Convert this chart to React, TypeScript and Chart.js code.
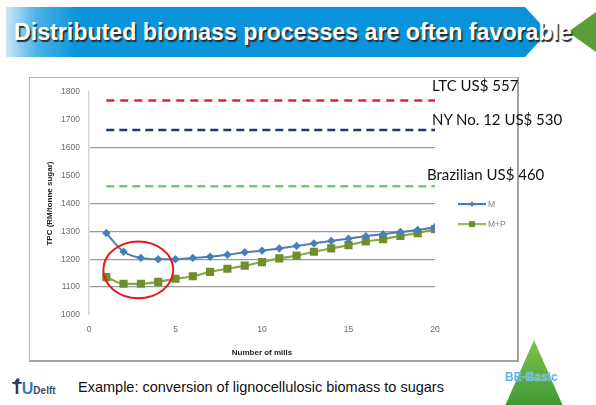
import React, { useEffect, useRef } from "react";
import { Chart, registerables } from "chart.js";

Chart.register(...registerables);

// ---- data ----
const mills = [1, 2, 3, 4, 5, 6, 7, 8, 9, 10, 11, 12, 13, 14, 15, 16, 17, 18, 19, 20];
const seriesM = [1294, 1227, 1205, 1200, 1200, 1205, 1209, 1216, 1225, 1231, 1239, 1248, 1257, 1266, 1274, 1283, 1290, 1298, 1305, 1316];
const seriesMP = [1136, 1112, 1112, 1119, 1130, 1139, 1155, 1166, 1177, 1190, 1203, 1213, 1227, 1239, 1251, 1264, 1272, 1284, 1294, 1308];
const seriesLabels = ["M", "M+P"];

const refLabels = ["LTC US$ 557", "NY No. 12 US$ 530", "Brazilian US$ 460"];
const refValues = [1770, 1664, 1462];

const yMin = 1000;
const yMax = 1800;
const yStep = 100;
const xMin = 0;
const xMax = 20;
const xStep = 5;
const hiddenGridAt = [1000, 1500, 1700, 1800];

// highlighted region (data coords): centre x, centre y, radius x, radius y
const circleCentre = [2.85, 1162];
const circleRadius = [2.02, 102];

const xTitle = "Number of mills";
const yTitle = "TPC (RM/tonne sugar)";
const slideTitle = "Distributed biomass processes are often favorable";
const footerText = "Example: conversion of lignocellulosic biomass to sugars";

// ---- styles ----
const refColors = ["#e0262b", "#1f3a6e", "#6fd06f"];
const refDash = [
  [8, 6],
  [8, 5],
  [8, 5],
];
const colM = "#4a7ebb";
const colMPline = "#88a64a";
const colMPpoint = "#6f8f2c";

const ellipsePlugin = {
  id: "ellipseMark",
  afterDatasetsDraw(chart: any) {
    const { ctx, scales } = chart;
    const x = scales.x, y = scales.y;
    const cx = x.getPixelForValue(circleCentre[0]);
    const cy = y.getPixelForValue(circleCentre[1]);
    const rx = Math.abs(x.getPixelForValue(circleCentre[0] + circleRadius[0]) - cx);
    const ry = Math.abs(y.getPixelForValue(circleCentre[1] + circleRadius[1]) - cy);
    ctx.save();
    ctx.beginPath();
    ctx.ellipse(cx, cy, rx, ry, 0, 0, Math.PI * 2);
    ctx.strokeStyle = "#e8161b";
    ctx.lineWidth = 2;
    ctx.stroke();
    ctx.restore();
  },
};

const sideLegendPlugin = {
  id: "sideLegend",
  afterDraw(chart: any) {
    const { ctx, chartArea } = chart;
    const items = chart.data.datasets.filter((d: any) => d.inLegend);
    items.forEach((ds: any, i: number) => {
      const y = chartArea.top + 112 + i * 20;
      const x0 = chartArea.right + 23;
      const x1 = x0 + 28;
      ctx.save();
      ctx.strokeStyle = ds.legendLine || ds.borderColor;
      ctx.lineWidth = 2.2;
      ctx.beginPath();
      ctx.moveTo(x0, y);
      ctx.lineTo(x1, y);
      ctx.stroke();
      const mx = (x0 + x1) / 2;
      ctx.fillStyle = ds.pointBackgroundColor;
      if (ds.pointStyle === "rect") {
        ctx.fillRect(mx - 3, y - 3, 6, 6);
      } else {
        ctx.beginPath();
        ctx.moveTo(mx, y - 3);
        ctx.lineTo(mx + 2.5, y);
        ctx.lineTo(mx, y + 3);
        ctx.lineTo(mx - 2.5, y);
        ctx.closePath();
        ctx.fill();
      }
      ctx.fillStyle = "#808080";
      ctx.font = "8.5px 'Liberation Sans', Arial, sans-serif";
      ctx.textBaseline = "middle";
      ctx.textAlign = "left";
      ctx.fillText(ds.label, x1 + 2, y + 0.5);
      ctx.restore();
    });
  },
};

function ChartBox() {
  const ref = useRef<HTMLCanvasElement | null>(null);
  useEffect(() => {
    if (!ref.current) return;
    const refSets = refValues.map((v, i) => ({
      label: refLabels[i],
      data: [
        { x: mills[0], y: v },
        { x: mills[mills.length - 1], y: v },
      ],
      borderColor: refColors[i],
      borderWidth: 2.6,
      borderDash: refDash[i],
      borderCapStyle: "butt",
      pointRadius: 0,
      fill: false,
      inLegend: false,
    }));
    const chart = new Chart(ref.current, {
      type: "line",
      data: {
        datasets: [
          ...refSets,
          {
            label: seriesLabels[0],
            data: mills.map((m, i) => ({ x: m, y: seriesM[i] })),
            borderColor: colM,
            backgroundColor: colM,
            pointBackgroundColor: colM,
            pointBorderColor: colM,
            pointStyle: "rectRot",
            pointRadius: 2.8,
            borderWidth: 2,
            cubicInterpolationMode: "monotone",
            fill: false,
            inLegend: true,
          },
          {
            label: seriesLabels[1],
            data: mills.map((m, i) => ({ x: m, y: seriesMP[i] })),
            borderColor: colMPline,
            backgroundColor: colMPpoint,
            pointBackgroundColor: colMPpoint,
            pointBorderColor: colMPpoint,
            pointStyle: "rect",
            pointRadius: 4.2,
            borderWidth: 2.2,
            cubicInterpolationMode: "monotone",
            fill: false,
            inLegend: true,
            legendLine: "#9bbb59",
          },
        ] as any,
      },
      options: {
        responsive: false,
        animation: false,
        devicePixelRatio: 1,
        layout: { padding: { left: 0, top: 12, right: 83, bottom: 0 } },
        plugins: {
          legend: { display: false },
          tooltip: { enabled: false },
        },
        scales: {
          x: {
            type: "linear",
            min: xMin,
            max: xMax,
            ticks: {
              stepSize: xStep,
              padding: 10,
              color: "#6b6b6b",
              font: { family: "'Liberation Sans', Arial, sans-serif", size: 8.5 },
            },
            grid: { display: false, drawTicks: false },
            border: { display: false },
            title: {
              display: true,
              text: xTitle,
              color: "#222",
              font: { family: "'Liberation Sans', Arial, sans-serif", size: 8, weight: "bold" },
              padding: { top: 4, bottom: 3 },
            },
            afterFit(scale: any) {
              scale.height = 46;
            },
          },
          y: {
            min: yMin,
            max: yMax,
            ticks: {
              stepSize: yStep,
              padding: 9,
              color: "#6b6b6b",
              font: { family: "'Liberation Sans', Arial, sans-serif", size: 8.5 },
              callback: (v: any) => String(v),
            },
            grid: {
              drawTicks: false,
              lineWidth: 1.3,
              color: (c: any) =>
                c.tick && hiddenGridAt.includes(c.tick.value) ? "rgba(0,0,0,0)" : "#9a9a9a",
            },
            border: { display: true, color: "#d6d6d6", width: 1.5 },
            title: {
              display: true,
              text: yTitle,
              color: "#222",
              font: { family: "'Liberation Sans', Arial, sans-serif", size: 8, weight: "bold" },
              padding: { top: 15, bottom: 4 },
            },
            afterFit(scale: any) {
              scale.width = 59;
            },
          },
        },
      } as any,
      plugins: [ellipsePlugin, sideLegendPlugin],
    });
    return () => chart.destroy();
  }, []);
  return <canvas ref={ref} width={488} height={283} style={{ position: "absolute", left: 30, top: 78, width: 488, height: 283 }} />;
}

export default function App() {
  const labelFont = "Lato, 'Open Sans', sans-serif";
  const refTops = [78.4, 111.7, 167.4];
  const refLefts = [432, 432, 427];
  return (
    <div
      style={{
        position: "fixed",
        left: 0,
        top: 0,
        width: 596,
        height: 405,
        background: "#ffffff",
        overflow: "hidden",
        fontFamily: "'Liberation Sans', Arial, sans-serif",
      }}
    >
      {/* title banner */}
      <div
        style={{
          position: "absolute",
          left: 6,
          top: 7,
          width: 542,
          height: 50,
          clipPath: "polygon(0 0, 519px 0, 542px 50%, 519px 100%, 0 100%)",
          background: "linear-gradient(to right, #cbe7f6 0px, #4db3e8 30px, #0a95db 70px, #0a92d9 100%)",
        }}
      />
      <div
        style={{
          position: "absolute",
          left: 568,
          top: 12,
          width: 28,
          height: 40,
          clipPath: "polygon(0 50%, 100% 0, 100% 100%)",
          background: "#5c9f3a",
        }}
      />
      <div
        style={{
          position: "absolute",
          left: 14,
          top: 20.5,
          fontSize: 23.2,
          lineHeight: "23.2px",
          fontWeight: "bold",
          color: "#ffffff",
          whiteSpace: "nowrap",
          textShadow: "1.5px 1.5px 1px #2a2a2a",
        }}
      >
        {slideTitle}
      </div>

      {/* chart box */}
      <div
        style={{
          position: "absolute",
          left: 29,
          top: 77,
          width: 490,
          height: 285,
          boxSizing: "border-box",
          borderTop: "1px solid #b5b5b5",
          borderLeft: "1px solid #b5b5b5",
          borderRight: "2px solid #a3a3a3",
          borderBottom: "2px solid #a3a3a3",
          background: "#fff",
        }}
      />
      <ChartBox />
      {refLabels.map((t, i) => (
        <div
          key={t}
          style={{
            position: "absolute",
            left: refLefts[i],
            top: refTops[i],
            fontFamily: labelFont,
            fontSize: 15,
            lineHeight: "15px",
            color: "#111",
            whiteSpace: "nowrap",
          }}
        >
          {t}
        </div>
      ))}

      {/* footer */}
      <div style={{ position: "absolute", left: 12, top: 381, whiteSpace: "nowrap", lineHeight: "1" }}>
        <span style={{ position: "absolute", left: 3, top: -3, width: 4, height: 7, background: "#2b3f6b", borderRadius: "50% 50% 0 0", transform: "rotate(25deg)" }} />
        <span style={{ fontSize: 16, fontWeight: "bold", color: "#1f3566" }}>T</span>
        <span style={{ fontSize: 16, fontWeight: "bold", color: "#2f7cc7" }}>U</span>
        <span style={{ fontSize: 10, fontWeight: "bold", color: "#3b4a6b" }}>Delft</span>
      </div>
      <div
        style={{
          position: "absolute",
          left: 78,
          top: 379.7,
          fontSize: 14.5,
          lineHeight: "14.5px",
          color: "#111",
          whiteSpace: "nowrap",
        }}
      >
        {footerText}
      </div>
      <div
        style={{
          position: "absolute",
          left: 505,
          top: 340,
          width: 58,
          height: 66,
          clipPath: "polygon(50% 0, 100% 100%, 0 100%)",
          background: "linear-gradient(to bottom, #7cc24a, #3f9a34)",
        }}
      />
      <div
        style={{
          position: "absolute",
          left: 505,
          top: 371,
          fontSize: 12,
          lineHeight: "12px",
          fontWeight: "bold",
          color: "#5cb6ea",
          whiteSpace: "nowrap",
          textShadow: "0 0 1px #ffffff",
        }}
      >
        BE-Basic
      </div>
    </div>
  );
}
